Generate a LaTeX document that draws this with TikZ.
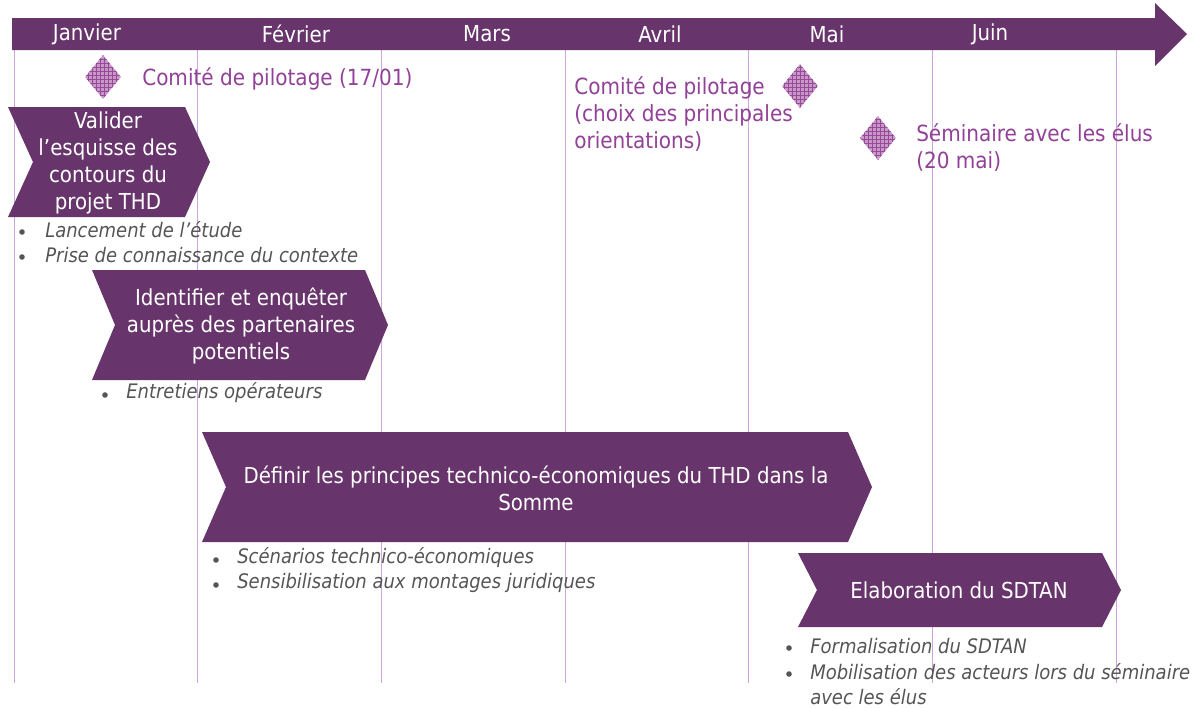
\documentclass[tikz,border=0pt]{standalone}
\usepackage{fontspec}
\IfFontExistsTF{DejaVu Sans Condensed}{\setmainfont{DejaVu Sans Condensed}}{\setmainfont{DejaVu Sans}}
\usepackage{tikz}
\usetikzlibrary{patterns,shapes.geometric}
\definecolor{prune}{RGB}{103,52,107}
\definecolor{lilas}{RGB}{205,165,220}
\definecolor{mauve}{RGB}{145,65,150}
\definecolor{losange}{RGB}{200,150,200}
\definecolor{trame}{RGB}{150,75,150}
\definecolor{gris}{RGB}{85,85,85}

% chevron : gauche, droite, haut, bas, profondeur
\newcommand{\chevron}[5]{%
  \fill[prune] (#1,#3) -- (#2,#3) -- (#2+#5,{(#3+#4)/2}) -- (#2,#4)
    -- (#1,#4) -- (#1+#5,{(#3+#4)/2}) -- cycle;}

\begin{document}
\begin{tikzpicture}[
     x = 0.75pt, y = -0.75pt,
     mois/.style = {text = white, inner sep = 0pt,
        font = \fontsize{16.5}{18}\selectfont},
     etape/.style = {text = white, align = center, inner sep = 0pt,
        font = \fontsize{16.5}{20.25}\selectfont},
     jalon/.style = {diamond, inner sep = 0pt, minimum width = 27pt,
        minimum height = 33pt, preaction = {fill = losange},
        pattern = grid, pattern color = trame},
     jalontxt/.style = {text = mauve, align = left, anchor = west,
        inner sep = 0pt, font = \fontsize{16.7}{20.25}\selectfont},
     puce/.style = {circle, fill = gris, inner sep = 0pt, minimum size = 4.2pt},
     tache/.style = {text = gris, align = left, anchor = west, inner sep = 0pt,
        font = \fontsize{15}{18.75}\selectfont\itshape}
     ]
     \useasboundingbox (0,0) rectangle (1203,707);

     % colonnes des mois
     \foreach \x in {14,197,381,565,748,932,1116}
       \draw[lilas, line width = 0.6pt] (\x,50) -- (\x,683);

     % fleche du temps
     \fill[prune] (12,18) -- (1155,18) -- (1155,3) -- (1187,34)
       -- (1155,66) -- (1155,50) -- (12,50) -- cycle;
     \node[mois] (jan) at (87,34) {Janvier};
     \node[mois] (fev) at (296,34) {Février};
     \node[mois] (mar) at (487,34) {Mars};
     \node[mois] (avr) at (660,34) {Avril};
     \node[mois] (mai) at (827,34) {Mai};
     \node[mois] (juin) at (990,34) {Juin};

     % jalons
     \node[jalon] (copil1) at (103,77) {};
     \node[jalontxt] (copil1txt) at (142,79) {Comité de pilotage (17/01)};
     \node[jalon] (copil2) at (800,86) {};
     \node[jalontxt] (copil2txt) at (574,114)
       {Comité de pilotage\\(choix des principales\\orientations)};
     \node[jalon] (semi) at (878,138) {};
     \node[jalontxt] (semitxt) at (916,148) {Séminaire avec les élus\\(20 mai)};

     % etapes
     \chevron{8}{185}{107}{217}{25}
     \node[etape] (valider) at (108,163)
       {Valider\\l’esquisse des\\contours du\\projet THD};
     \chevron{92}{365}{270}{380}{23}
     \node[etape] (enquete) at (241,326)
       {Identifier et enquêter\\auprès des partenaires\\potentiels};
     \chevron{202}{848}{432}{542}{24}
     \node[etape] (definir) at (536,488)
       {Définir les principes technico-économiques du THD dans la\\Somme};
     \chevron{798}{1102}{553}{627}{19}
     \node[etape] (sdtan) at (959,590) {Elaboration du SDTAN};

     % sous-taches
     \node[puce] (p1) at (22,232) {};
     \node[tache] (t1) at (45,230) {Lancement de l’étude};
     \node[puce] (p2) at (22,257) {};
     \node[tache] (t2) at (45,255) {Prise de connaissance du contexte};
     \node[puce] (p3) at (105,395) {};
     \node[tache] (t3) at (126,393) {Entretiens opérateurs};
     \node[puce] (p4) at (216,560) {};
     \node[tache] (t4) at (237,558) {Scénarios technico-économiques};
     \node[puce] (p5) at (216,585) {};
     \node[tache] (t5) at (237,583) {Sensibilisation aux montages juridiques};
     \node[puce] (p6) at (789,648) {};
     \node[tache] (t6) at (810,646) {Formalisation du SDTAN};
     \node[puce] (p7) at (789,674) {};
     \node[tache] (t7) at (810,684)
       {Mobilisation des acteurs lors du séminaire\\avec les élus};
\end{tikzpicture}
\end{document}
